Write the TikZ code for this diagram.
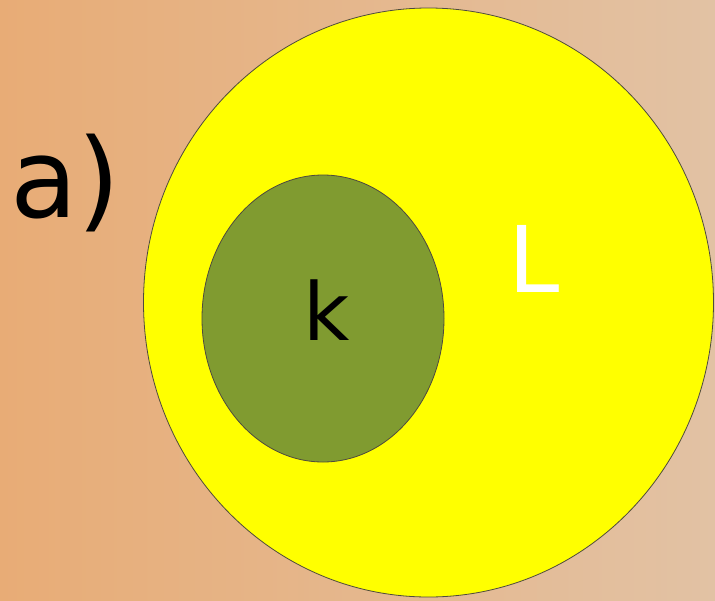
\documentclass[tikz,border=0pt]{standalone}
\usepackage{fontspec}
\setmainfont{DejaVu Sans}
\usepackage{tikz}
\usetikzlibrary{shapes.geometric, positioning}

\definecolor{bgleft}{RGB}{232,172,118}
\definecolor{bgright}{RGB}{226,194,164}
\definecolor{setyellow}{RGB}{255,255,0}
\definecolor{setgreen}{RGB}{128,155,48}

\begin{document}
\begin{tikzpicture}[x=1pt,y=-1pt]

\tikzset{set/.style = {shape=ellipse,draw=black!80!yellow,line width=0.8pt,inner sep=0pt}}
\tikzset{tag/.style = {inner sep=0pt,anchor=base west}}
% background
\shade[left color=bgleft,right color=bgright] (0,0) rectangle (715,600);
\useasboundingbox (0,0) rectangle (715,600);

% sets
\node[set,fill=setyellow,minimum width=570pt,minimum height=589pt] (bigL) at (428.5,302.5) {};
\node[set,fill=setgreen,minimum width=242pt,minimum height=287pt] (smallk) at (323,318.5) {};

% labels
\node[tag] (parta) at (10,217) {\fontsize{110}{110}\selectfont a)};
\node[tag,anchor=base] (labk) at (327,340) {\fontsize{80}{80}\selectfont k};
\node[tag,text=white] (labL) at (508,292) {\fontsize{92}{92}\selectfont L};

\end{tikzpicture}
\end{document}
